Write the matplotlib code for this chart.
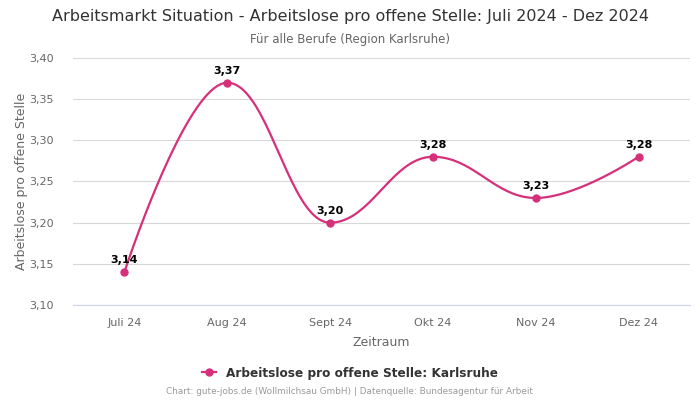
import numpy as np
import matplotlib
matplotlib.use("Agg")
import matplotlib.pyplot as plt
from matplotlib.lines import Line2D

categories = ["Juli 24", "Aug 24", "Sept 24", "Okt 24", "Nov 24", "Dez 24"]
values = [3.14, 3.37, 3.20, 3.28, 3.23, 3.28]
y_ticks = [3.10, 3.15, 3.20, 3.25, 3.30, 3.35, 3.40]

color = "#d6307a"

def spline(xs, ys, n=40):
    # Highcharts-like spline
    pts = list(zip(xs, ys))
    ctrl = []
    sm, den = 1.5, 2.5
    for i, (px, py) in enumerate(pts):
        if i == 0 or i == len(pts) - 1:
            ctrl.append((px, py, px, py))
            continue
        lx, ly = pts[i - 1]
        nx, ny = pts[i + 1]
        lcx = (sm * px + lx) / den
        lcy = (sm * py + ly) / den
        rcx = (sm * px + nx) / den
        rcy = (sm * py + ny) / den
        if rcx != lcx:
            corr = ((rcy - lcy) * (rcx - px)) / (rcx - lcx) + py - rcy
            lcy += corr
            rcy += corr
        if lcy > ly and lcy > py:
            lcy = max(ly, py)
            rcy = 2 * py - lcy
        elif lcy < ly and lcy < py:
            lcy = min(ly, py)
            rcy = 2 * py - lcy
        if rcy > ny and rcy > py:
            rcy = max(ny, py)
            lcy = 2 * py - rcy
        elif rcy < ny and rcy < py:
            rcy = min(ny, py)
            lcy = 2 * py - rcy
        ctrl.append((lcx, lcy, rcx, rcy))
    X, Y = [], []
    t = np.linspace(0, 1, n)
    for i in range(len(pts) - 1):
        p0 = np.array(pts[i])
        p3 = np.array(pts[i + 1])
        p1 = np.array(ctrl[i][2:4])
        p2 = np.array(ctrl[i + 1][0:2])
        b = ((1 - t) ** 3)[:, None] * p0 + (3 * (1 - t) ** 2 * t)[:, None] * p1 + \
            (3 * (1 - t) * t ** 2)[:, None] * p2 + (t ** 3)[:, None] * p3
        X.extend(b[:, 0]); Y.extend(b[:, 1])
    return np.array(X), np.array(Y)

fig = plt.figure(figsize=(7, 4), dpi=100)
ax = fig.add_axes([73 / 700, 1 - 305 / 400, 617 / 700, 247 / 400])

x = np.arange(len(categories))
sx, sy = spline(x, values)
ax.plot(sx, sy, color=color, lw=1.6, zorder=3)
ax.plot(x, values, "o", color=color, ms=5, zorder=4)
for xi, v in zip(x, values):
    ax.annotate(f"{v:.2f}".replace(".", ","), (xi, v), xytext=(0, 5), textcoords="offset points",
                ha="center", va="bottom", fontsize=8, fontweight="bold", color="black", zorder=5)

ax.set_xlim(-0.5, len(categories) - 0.5)
ax.set_ylim(3.10, 3.40)
ax.set_yticks(y_ticks)
ax.set_yticklabels([f"{t:.2f}".replace(".", ",") for t in y_ticks])
ax.set_xticks(x)
ax.set_xticklabels(categories)
ax.tick_params(axis="both", length=0, labelsize=8, labelcolor="#666666")
ax.tick_params(axis="x", pad=9)
ax.tick_params(axis="y", pad=14)
ax.grid(axis="y", color="#d8d8d8", lw=0.8)
ax.set_axisbelow(True)
for s in ["top", "right", "left"]:
    ax.spines[s].set_visible(False)
ax.spines["bottom"].set_color("#ccd6eb")
ax.spines["bottom"].set_linewidth(0.8)
ax.set_xlabel("Zeitraum", fontsize=9, color="#666666", labelpad=6)
ax.set_ylabel("Arbeitslose pro offene Stelle", fontsize=9, color="#666666", labelpad=1)

fig.text(0.5, 1 - 17 / 400, "Arbeitsmarkt Situation - Arbeitslose pro offene Stelle: Juli 2024 - Dez 2024",
         ha="center", va="center", fontsize=11.5, color="#333333")
fig.text(0.5, 1 - 39 / 400, "Für alle Berufe (Region Karlsruhe)", ha="center", va="center",
         fontsize=8.5, color="#666666")

handle = Line2D([], [], color=color, marker="o", ms=5, lw=1.6)
fig.legend([handle], ["Arbeitslose pro offene Stelle: Karlsruhe"], loc="center",
           bbox_to_anchor=(0.5, 1 - 373 / 400), frameon=False, handlelength=1.2,
           prop={"size": 8.7, "weight": "bold"}, labelcolor="#333333")
fig.text(0.5, 1 - 392 / 400, "Chart: gute-jobs.de (Wollmilchsau GmbH) | Datenquelle: Bundesagentur für Arbeit",
         ha="center", va="center", fontsize=6.4, color="#999999")

fig.savefig("out.png", dpi=100)
